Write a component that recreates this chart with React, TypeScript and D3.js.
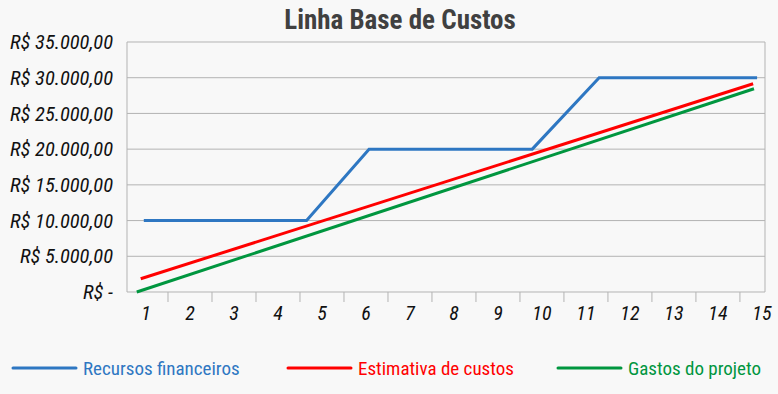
import React from "react";
import * as d3 from "d3";

const title = "Linha Base de Custos";
const periods = [1, 2, 3, 4, 5, 6, 7, 8, 9, 10, 11, 12, 13, 14, 15];
const yTicks = [0, 5000, 10000, 15000, 20000, 25000, 30000, 35000];

// series: x positions in period units, values in R$
const recursosX = [0.95, 4.65, 6.07, 9.78, 11.3, 14.89];
const recursosY = [10000, 10000, 20000, 20000, 30000, 30000];
const estimativaX = [0.88, 14.8];
const estimativaY = [1850, 29150];
const gastosX = [0.79, 14.82];
const gastosY = [0, 28450];

const seriesNames = ["Recursos financeiros", "Estimativa de custos", "Gastos do projeto"];
const seriesColors = ["#2e77c2", "#ff0000", "#00963f"];

const W = 778;
const H = 394;
const left = 127;
const right = 765;
const top = 42;
const bottom = 292;

const FONT = "'Liberation Sans Narrow', 'Roboto Condensed', 'DejaVu Sans Condensed', 'Liberation Sans', sans-serif";

function fmt(v: number) {
  if (v === 0) return "R$ -";
  const s = d3.format(",")(v).replace(/,/g, ".");
  return "R$ " + s + ",00";
}

export default function App() {
  const x = d3.scaleLinear().domain([0.568, 15.07]).range([left, right]);
  const y = d3.scaleLinear().domain([0, 35000]).range([bottom, top]);
  const line = d3
    .line<[number, number]>()
    .x((d) => x(d[0]))
    .y((d) => y(d[1]));

  const series = [
    { name: seriesNames[0], color: seriesColors[0], pts: recursosX.map((v, i) => [v, recursosY[i]] as [number, number]) },
    { name: seriesNames[1], color: seriesColors[1], pts: estimativaX.map((v, i) => [v, estimativaY[i]] as [number, number]) },
    { name: seriesNames[2], color: seriesColors[2], pts: gastosX.map((v, i) => [v, gastosY[i]] as [number, number]) },
  ];

  const legendX = [13, 288, 558];

  return (
    <svg width={W} height={H} style={{ position: "absolute", left: 0, top: 0, background: "#f8f8f8" }}>
      <rect x={0} y={0} width={W} height={H} fill="#f8f8f8" />
      <text
        x={400}
        y={29}
        textAnchor="middle"
        fontFamily={FONT}
        fontWeight="bold"
        fontSize={27}
        fill="#404040"
      >
        {title}
      </text>
      {yTicks.map((t) => (
        <g key={t}>
          <line x1={left} x2={right} y1={y(t)} y2={y(t)} stroke="#b3b3b3" strokeWidth={1} />
          <text
            x={113}
            y={y(t)}
            dy="0.35em"
            textAnchor="end"
            fontFamily={FONT}
            fontStyle="italic"
            fontSize={20.5}
            fill="#111"
          >
            {fmt(t)}
          </text>
        </g>
      ))}
      <line x1={left} x2={left} y1={top} y2={bottom} stroke="#b3b3b3" />
      <line x1={right} x2={right} y1={top} y2={bottom} stroke="#b3b3b3" />
      {periods.slice(0, -1).map((p) => (
        <line key={p} x1={x(p + 0.5)} x2={x(p + 0.5)} y1={bottom} y2={bottom + 10} stroke="#b3b3b3" />
      ))}
      {periods.map((p) => (
        <text
          key={p}
          x={x(p)}
          y={313}
          dy="0.35em"
          textAnchor="middle"
          fontFamily={FONT}
          fontStyle="italic"
          fontSize={20}
          fill="#111"
        >
          {p}
        </text>
      ))}
      {series.map((s) => (
        <path key={s.name} d={line(s.pts) || ""} fill="none" stroke={s.color} strokeWidth={3} strokeLinejoin="miter" />
      ))}
      {series.map((s, i) => (
        <g key={s.name} transform={`translate(${legendX[i]},368)`}>
          <line x1={0} x2={63} y1={0} y2={0} stroke={s.color} strokeWidth={3} strokeLinecap="round" />
          <text x={70} y={0} dy="0.35em" fontFamily={FONT} fontSize={19} fill={s.color}>
            {s.name}
          </text>
        </g>
      ))}
    </svg>
  );
}
